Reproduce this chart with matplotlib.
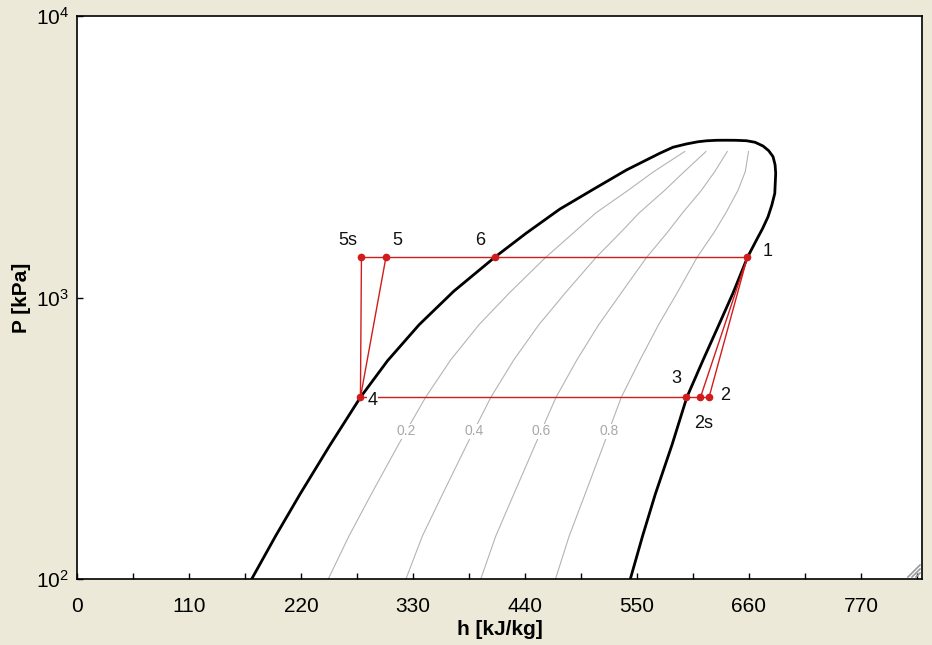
""" P-h diagram with a vapour cycle """

import numpy as np
import matplotlib
matplotlib.use("Agg")
import matplotlib.pyplot as plt
from matplotlib.ticker import FixedLocator, FuncFormatter, NullLocator

# saturation dome (liquid side up to the top, then down the vapour side)
dome_P = [100, 142, 200, 297, 442, 596, 800, 1052, 1396, 1690, 2060, 2420, 2838,
          3253, 3419, 3511, 3575, 3603, 3618, 3620, 3618, 3605, 3560, 3452, 3320,
          3163, 2960, 2762, 2344, 2130, 1937, 1760, 1600, 1390, 1040, 800, 600,
          442, 300, 200, 142, 100]
dome_h = [171.6, 195, 219, 248, 278.4, 305, 336, 370, 411, 441, 474.2, 506.9, 539.7,
          572.4, 585.5, 598.6, 610, 618.3, 628, 637.2, 647, 657.6, 666, 673.9, 679.5,
          683.7, 685.7, 686.3, 685.4, 682.5, 678.8, 673.5, 667.4, 658.6, 644.5, 630.5, 615,
          599, 584.5, 568, 555.5, 543.5]

# constant quality lines
quality_P = [100, 142, 200, 300, 442, 600, 800, 1040, 1390, 1700, 2000, 2400, 2800, 3300]
quality_h = {
    "0.2": [246.8, 267.1, 289, 315.7, 342.4, 367, 394.8, 424.9, 460.5, 487.9,
            509.8, 541.1, 566.5, 596.9],
    "0.4": [323.1, 339.2, 359, 382.9, 406.5, 429, 453.6, 479.8, 510.0, 533.8,
            552.3, 577.1, 596.5, 617.8],
    "0.6": [396.6, 411.3, 429, 450.1, 470.5, 491, 512.4, 534.7, 559.6, 579.7,
            594.9, 613.2, 626.4, 638.7],
    "0.8": [470.0, 483.4, 499, 517.3, 534.6, 553, 571.2, 589.6, 609.1, 625.6,
            637.4, 649.2, 656.4, 659.6],
}
quality_label_P = 335

# cycle states
state_names = ["1", "2", "2s", "3", "4", "5s", "5", "6"]
state_h = [658.5, 620.8, 612.4, 598.6, 278.4, 279.4, 303.5, 411.0]
state_P = [1393, 442, 442, 442, 442, 1393, 1393, 1393]
cycle_lines = [("5s", "1"), ("4", "2"), ("4", "5s"), ("4", "5"), ("1", "2s"), ("1", "2")]

# label offsets in pixels (dx right, dy up)
label_offset = {"1": (20, 5), "2": (16, 2), "2s": (3, -26), "3": (-10, 19),
                "4": (12, -3), "5s": (-14, 16), "5": (11, 16), "6": (-15, 16)}

BEIGE = "#ece9d8"
RED = "#d01c1c"
FONT = ["Liberation Sans Narrow", "Liberation Sans", "DejaVu Sans"]


def main():
    plt.rcParams["font.family"] = FONT
    plt.rcParams["mathtext.default"] = "regular"

    fig = plt.figure(figsize=(9.32, 6.45), dpi=100, facecolor=BEIGE)
    ax = fig.add_axes([77 / 932, 1 - 579 / 645, 845 / 932, 563 / 645])
    ax.set_facecolor("white")

    draw_dome(ax)
    draw_cycle(ax)
    style_axes(ax)
    draw_grip(fig)

    fig.savefig("out.png", dpi=100, facecolor=BEIGE)


def draw_dome(ax):
    """ saturation curve and quality lines """
    ax.plot(dome_h, dome_P, color="black", lw=2, zorder=3)
    for name, hs in quality_h.items():
        ax.plot(hs, quality_P, color="#b4b4b4", lw=0.8, zorder=1)
        logp = np.log10(quality_P)
        hx = np.interp(np.log10(quality_label_P), logp, hs)
        ax.text(hx, quality_label_P, name, color="#a8a8a8", fontsize=10,
                ha="center", va="center", zorder=2,
                bbox=dict(facecolor="white", edgecolor="none", pad=0.5))


def draw_cycle(ax):
    """ red cycle lines, state points and labels """
    pos = {n: (h, p) for n, h, p in zip(state_names, state_h, state_P)}
    for a, b in cycle_lines:
        ax.plot([pos[a][0], pos[b][0]], [pos[a][1], pos[b][1]],
                color=RED, lw=1, zorder=4)
    ax.plot(state_h, state_P, "o", color=RED, ms=4.5, zorder=5)
    for n in state_names:
        dx, dy = label_offset[n]
        ax.annotate(n, pos[n], xytext=(dx, dy), textcoords="offset pixels",
                    fontsize=13, ha="center", va="center", color="#111111",
                    zorder=6,
                    bbox=dict(facecolor="white", edgecolor="none", pad=0.5))


def style_axes(ax):
    ax.set_yscale("log")
    ax.set_xlim(0, 830)
    ax.set_ylim(100, 10000)

    ax.xaxis.set_major_locator(FixedLocator(np.arange(0, 830, 110)))
    ax.xaxis.set_minor_locator(FixedLocator(np.arange(55, 830, 110)))
    ax.yaxis.set_major_locator(FixedLocator([100, 1000, 10000]))
    ax.yaxis.set_minor_locator(NullLocator())
    ax.yaxis.set_major_formatter(
        FuncFormatter(lambda v, _: r"$10^{%d}$" % round(np.log10(v))))

    ax.tick_params(which="both", direction="in", length=4, width=1,
                   top=False, right=False, labelsize=15, colors="black")
    ax.tick_params(axis="x", pad=13)
    ax.tick_params(axis="y", pad=6)
    for s in ax.spines.values():
        s.set_linewidth(1.2)

    ax.set_xlabel("h [kJ/kg]", fontsize=15, fontweight="bold", labelpad=3)
    ax.set_ylabel("P [kPa]", fontsize=15, fontweight="bold", labelpad=3)


def draw_grip(fig):
    """ little window resize grip in the plot corner """
    W, H = 932, 645
    for k in (4, 8, 12):
        fig.add_artist(plt.Line2D([(920 - k) / W, 920 / W],
                                  [1 - 577 / H, 1 - (577 - k) / H],
                                  color="#9a9a9a", lw=1.2,
                                  transform=fig.transFigure))


if __name__ == "__main__":
    main()
